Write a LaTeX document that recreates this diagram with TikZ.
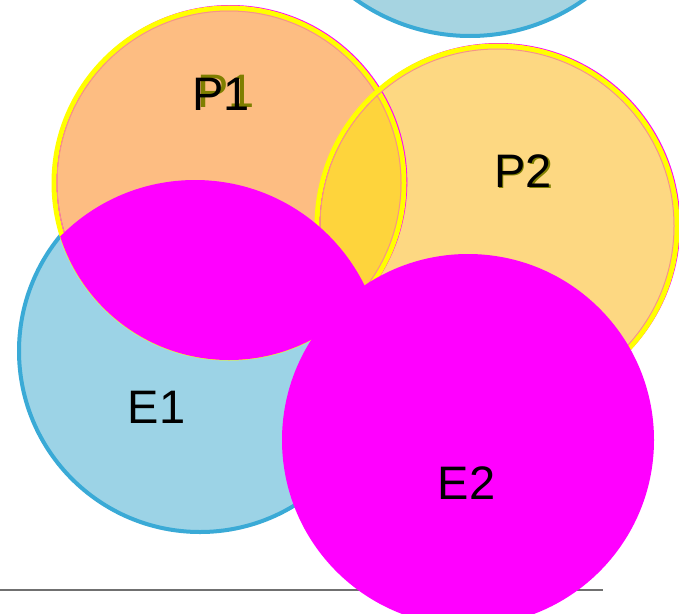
\documentclass[tikz,border=0pt]{standalone}
\usepackage{fontspec}
\setmainfont{Liberation Sans}
\usetikzlibrary{calc}
\definecolor{ringcol}{RGB}{58,170,214}
\definecolor{etopcol}{RGB}{166,212,225}
\definecolor{eonecol}{RGB}{156,211,230}
\definecolor{ponecol}{RGB}{253,189,130}
\definecolor{ptwocol}{RGB}{253,216,130}
\definecolor{pbothcol}{RGB}{254,212,60}
\definecolor{pinkcol}{RGB}{247,148,135}
\definecolor{shadecol}{RGB}{127,127,0}
\definecolor{rulecol}{RGB}{112,112,112}
\definecolor{magentacol}{RGB}{255,0,255}
\definecolor{yellowcol}{RGB}{255,255,0}

\begin{document}
\begin{tikzpicture}[x=1pt,y=-1pt,
  setring/.style={line width=4pt},
  setlabel/.style={font=\fontsize{47}{52}\selectfont,inner sep=0pt}]
\useasboundingbox (0,0) rectangle (679,613);
\coordinate (cT) at (470,-161);
\coordinate (cP1) at (229,183);
\coordinate (cP2) at (497,226);
\coordinate (cE1) at (200,351);
\coordinate (cE2) at (468,440);
\coordinate (cL) at (195,369);

% rule under the sets
\draw[rulecol,line width=1.5pt] (0,590) coordinate (r0) -- (603,590) coordinate (r1);

% upper set, cut by the page
\draw[setring,ringcol,fill=etopcol] (cT) circle[radius=197pt];
\draw[setring,ringcol,fill=eonecol] (cE1) circle[radius=181pt];

% P1, P2 and their common part
\fill[ponecol] (cP1) circle[radius=175pt];
\fill[ptwocol] (cP2) circle[radius=180pt];
\begin{scope}
  \clip (cP1) circle[radius=175pt];
  \fill[pbothcol] (cP2) circle[radius=180pt];
\end{scope}
\foreach \c/\r in {cP1/175,cP2/180}{
  \draw[magentacol,line width=4pt] ($(\c)+(1.3,-1)$) circle[radius=\r pt];
  \draw[yellowcol,line width=5pt] (\c) circle[radius=\r pt];
  \draw[pinkcol,line width=1pt] (\c) circle[radius=\r pt-3pt];
}

% P1 cut by E1
\begin{scope}
  \clip (cP1) circle[radius=177pt];
  \fill[magentacol] (cL) circle[radius=189pt];
\end{scope}
\fill[magentacol] (cE2) circle[radius=186pt];

% labels
\node[setlabel,text=shadecol] (sP1) at (226,91) {P1};
\node[setlabel] (lP1) at (221,94) {P1};
\node[setlabel,text=shadecol] (sP2) at (524.5,172.5) {P2};
\node[setlabel] (lP2) at (523,171) {P2};
\node[setlabel] (lE1) at (156.5,407.5) {E1};
\node[setlabel] (lE2) at (466.5,483.5) {E2};
\end{tikzpicture}
\end{document}
